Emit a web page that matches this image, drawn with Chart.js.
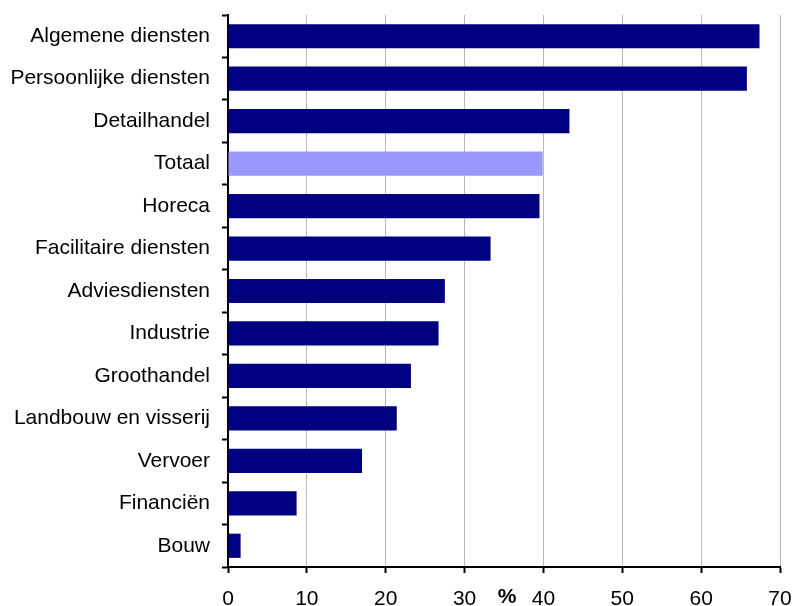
<!DOCTYPE html>
<html>
<head>
<meta charset="utf-8">
<script src="https://cdn.jsdelivr.net/npm/chart.js@4"></script>
<style>
  html, body { margin: 0; padding: 0; background: #fff; }
  #wrap { width: 794px; height: 606px; }
</style>
</head>
<body>
<div id="wrap"><canvas id="barChart" width="794" height="606"></canvas></div>
<script>
const sectors = ['Algemene diensten', 'Persoonlijke diensten', 'Detailhandel', 'Totaal', 'Horeca',
  'Facilitaire diensten', 'Adviesdiensten', 'Industrie', 'Groothandel', 'Landbouw en visserij',
  'Vervoer', 'Financiën', 'Bouw'];
const shares = [67.4, 65.8, 43.3, 39.9, 39.5, 33.3, 27.5, 26.7, 23.2, 21.4, 17.0, 8.7, 1.6];
const xTicks = [0, 10, 20, 30, 40, 50, 60, 70];
const totalLabel = 'Totaal';

const fontFamily = '"Liberation Sans", Arial, Helvetica, sans-serif';

// "%" unit drawn between 30 and 40 on the tick-label line
const unitLabel = {
  id: 'unitLabel',
  afterDraw(chart) {
    const x = chart.scales.x;
    const c = chart.ctx;
    c.save();
    c.font = 'bold 21px ' + fontFamily;
    c.fillStyle = '#000';
    c.textAlign = 'center';
    c.textBaseline = 'middle';
    c.fillText('%', x.getPixelForValue(35.4), 597);
    c.restore();
  }
};

const ctx = document.getElementById('barChart');

new Chart(ctx, {
  type: 'bar',
  data: {
    labels: sectors,
    datasets: [{
      data: shares,
      backgroundColor: sectors.map(s => s === totalLabel ? '#9999FF' : '#000080'),
      categoryPercentage: 1,
      barPercentage: 0.57
    }]
  },
  options: {
    indexAxis: 'y',
    responsive: false,
    animation: false,
    layout: { padding: { top: 15, right: 14, left: 0, bottom: 0 } },
    plugins: {
      legend: { display: false },
      tooltip: { enabled: false }
    },
    scales: {
      x: {
        min: 0,
        max: 70,
        afterBuildTicks: axis => { axis.ticks = xTicks.map(v => ({ value: v })); },
        afterFit: axis => {
          axis.height = 39;
          axis.paddingLeft = 0;
          axis.paddingRight = 0;
        },
        border: { color: '#000', width: 2 },
        grid: {
          color: '#b8b8b8',
          lineWidth: 1,
          tickColor: '#000',
          tickLength: 6,
          tickWidth: 2
        },
        ticks: {
          color: '#000',
          font: { family: fontFamily, size: 21 },
          padding: 14,
          maxRotation: 0
        }
      },
      y: {
        afterFit: axis => {
          axis.width = 228;
          axis.paddingTop = 0;
          axis.paddingBottom = 0;
        },
        border: { color: '#000', width: 2 },
        grid: {
          drawOnChartArea: false,
          tickColor: '#000',
          tickLength: 6,
          tickWidth: 2
        },
        ticks: {
          color: '#000',
          font: { family: fontFamily, size: 21 },
          padding: 12,
          autoSkip: false
        }
      }
    }
  },
  plugins: [unitLabel]
});
</script>
</body>
</html>
